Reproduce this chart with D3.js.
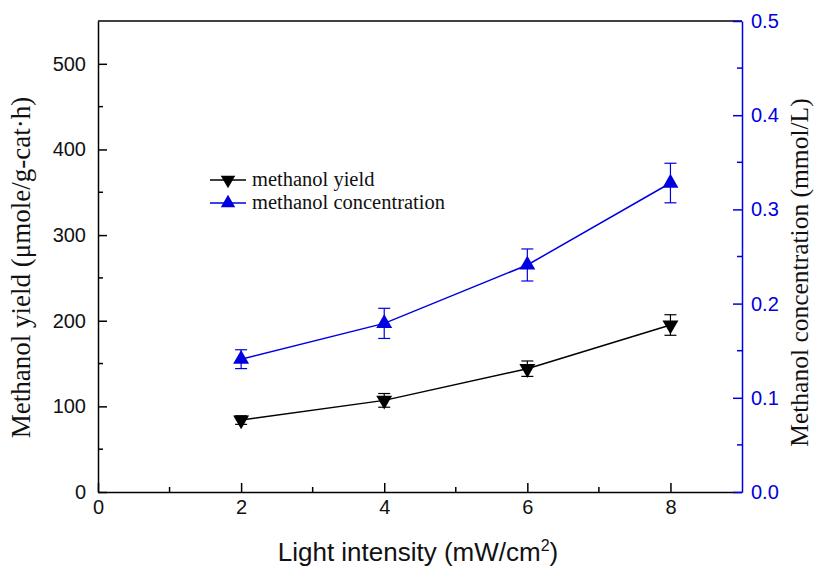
<!DOCTYPE html>
<html><head><meta charset="utf-8">
<script src="https://cdn.jsdelivr.net/npm/d3@7"></script>
<style>body{margin:0;background:#fff}</style>
</head><body>
<svg id="c" width="818" height="570"></svg>
<script>
const intensity = [2, 4, 6, 8];
const yieldVals = [84, 107, 144, 195];
const yieldErr = [5, 8, 9, 12];
const concVals = [0.141, 0.179, 0.241, 0.328];
const concErr = [0.010, 0.016, 0.017, 0.021];
const xTicks = [0, 2, 4, 6, 8];
const yLeftTicks = [0, 100, 200, 300, 400, 500];
const yRightTicks = [0, 0.1, 0.2, 0.3, 0.4, 0.5];

const svg = d3.select("#c");
const L = 98, R = 742, T = 21, B = 492;
const blue = "#0000e0";
const sans = "'Liberation Sans', Arial, sans-serif";
const serif = "'Liberation Serif', 'Times New Roman', serif";
const x = d3.scaleLinear().domain([0, 9]).range([L, R]);
const yL = d3.scaleLinear().domain([0, 550]).range([B, T]);
const yR = d3.scaleLinear().domain([0, 0.5]).range([B, T]);

// frame top
svg.append("line").attr("x1", L).attr("x2", R).attr("y1", T).attr("y2", T).attr("stroke", "#000").attr("stroke-width", 1.5);

// bottom axis
const gx = svg.append("g").attr("transform", `translate(0,${B})`)
  .call(d3.axisBottom(x).tickValues(xTicks).tickSizeInner(-9).tickSizeOuter(0).tickPadding(8).tickFormat(d3.format("d")));
gx.selectAll(".tick line").attr("stroke-width", 1.5);
gx.append("g").selectAll("line").data([1,3,5,7]).join("line")
  .attr("x1", d => x(d)).attr("x2", d => x(d)).attr("y1", 0).attr("y2", -5).attr("stroke", "#000").attr("stroke-width", 1.5);
gx.select(".domain").attr("stroke-width", 1.5);

// left axis
const gl = svg.append("g").attr("transform", `translate(${L},0)`)
  .call(d3.axisLeft(yL).tickValues(yLeftTicks).tickSizeInner(-9).tickSizeOuter(0).tickPadding(12));
gl.selectAll(".tick line").attr("stroke-width", 1.5);
gl.append("g").selectAll("line").data([50,150,250,350,450]).join("line")
  .attr("y1", d => yL(d)).attr("y2", d => yL(d)).attr("x1", 0).attr("x2", 5).attr("stroke", "#000").attr("stroke-width", 1.5);
gl.select(".domain").attr("stroke-width", 1.5);

// right axis
const gr = svg.append("g").attr("transform", `translate(${R},0)`)
  .call(d3.axisRight(yR).tickValues(yRightTicks).tickSizeInner(-9).tickSizeOuter(0).tickPadding(9).tickFormat(d3.format(".1f")));
gr.selectAll(".tick line").attr("stroke", blue).attr("stroke-width", 1.5);
gr.select(".domain").attr("stroke", blue).attr("stroke-width", 1.5);
gr.append("g").selectAll("line").data([0.05,0.15,0.25,0.35,0.45]).join("line")
  .attr("y1", d => yR(d)).attr("y2", d => yR(d)).attr("x1", 0).attr("x2", -5).attr("stroke", blue).attr("stroke-width", 1.5);

[gx, gl, gr].forEach(g => g.attr("font-size", null).attr("font-family", null));
svg.selectAll(".tick text").style("font-family", sans).style("font-size", "20px").attr("fill", "#111");
gr.selectAll(".tick text").attr("fill", blue);

// series
function series(vals, errs, yScale, color, rot) {
  const g = svg.append("g");
  g.append("path").datum(intensity.map((d, i) => [d, vals[i]]))
    .attr("d", d3.line().x(d => x(d[0])).y(d => yScale(d[1])))
    .attr("fill", "none").attr("stroke", color).attr("stroke-width", 1.5);
  intensity.forEach((d, i) => {
    const cx = x(d), top = yScale(vals[i] + errs[i]), bot = yScale(vals[i] - errs[i]);
    g.append("line").attr("x1", cx).attr("x2", cx).attr("y1", top).attr("y2", bot).attr("stroke", color).attr("stroke-width", 1.2);
    [top, bot].forEach(yy => g.append("line").attr("x1", cx - 6).attr("x2", cx + 6).attr("y1", yy).attr("y2", yy).attr("stroke", color).attr("stroke-width", 1.2));
    g.append("path").attr("d", d3.symbol().type(d3.symbolTriangle).size(110)())
      .attr("transform", `translate(${cx},${yScale(vals[i])}) rotate(${rot})`).attr("fill", color);
  });
}
series(yieldVals, yieldErr, yL, "#000", 180);
series(concVals, concErr, yR, blue, 0);

// legend
const leg = svg.append("g");
[["methanol yield", "#000", 180], ["methanol concentration", blue, 0]].forEach((d, i) => {
  const yy = 180 + i * 23;
  leg.append("line").attr("x1", 210).attr("x2", 246).attr("y1", yy).attr("y2", yy).attr("stroke", d[1]).attr("stroke-width", 1.5);
  leg.append("path").attr("d", d3.symbol().type(d3.symbolTriangle).size(90)()).attr("transform", `translate(228,${yy}) rotate(${d[2]})`).attr("fill", d[1]);
  leg.append("text").attr("x", 252).attr("y", yy + 6).text(d[0]).attr("fill", "#111")
    .style("font-family", serif).style("font-size", "20.5px");
});

// titles
svg.append("text").attr("transform", `translate(30,${(T + B) / 2 + 11}) rotate(-90)`).attr("text-anchor", "middle")
  .style("font-family", serif).style("font-size", "27px").attr("fill", "#111").text("Methanol yield (μmole/g-cat·h)");
svg.append("text").attr("transform", `translate(808,${(T + B) / 2 + 16}) rotate(-90)`).attr("text-anchor", "middle")
  .style("font-family", serif).style("font-size", "25.5px").attr("fill", "#111").text("Methanol concentration (mmol/L)");
const xt = svg.append("text").attr("x", (L + R) / 2 - 2).attr("y", 561).attr("text-anchor", "middle")
  .style("font-family", sans).style("font-size", "26px").attr("fill", "#111");
xt.append("tspan").text("Light intensity (mW/cm");
xt.append("tspan").attr("dy", -10).style("font-size", "16px").text("2");
xt.append("tspan").attr("dy", 10).text(")");
</script>
</body></html>
